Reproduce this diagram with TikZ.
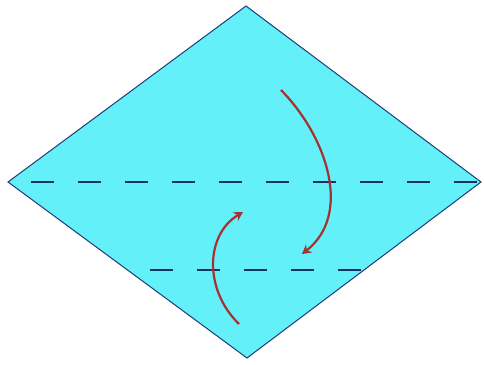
\documentclass[tikz,border=0pt]{standalone}
\usetikzlibrary{arrows.meta}
\definecolor{paper}{RGB}{100,240,248}
\definecolor{edge}{RGB}{30,60,120}
\definecolor{fold}{RGB}{20,50,100}
\definecolor{arr}{RGB}{165,50,50}
\tikzset{
  foldline/.style={fold, line width=1.6pt, dash pattern=on 23pt off 24pt},
  turnarrow/.style={arr, line width=2.2pt, -{Stealth[length=9pt,width=10pt]}}
}
\begin{document}
\begin{tikzpicture}[x=1pt,y=-1pt]
\useasboundingbox (0,0) rectangle (484,364);
\coordinate (T) at (246,6);
\coordinate (L) at (8,182);
\coordinate (R) at (481,182);
\coordinate (B) at (247,358);
\fill[paper] (T) -- (R) -- (B) -- (L) -- cycle;
\draw[edge, line width=1pt] (T) -- (R) -- (B) -- (L) -- cycle;
\coordinate (f1a) at (31,182);
\coordinate (f1b) at (481,182);
\draw[foldline] (f1a) -- (f1b);
\coordinate (f2a) at (150,270);
\coordinate (f2b) at (363,270);
\draw[foldline] (f2a) -- (f2b);
\coordinate (a1s) at (281,90);
\coordinate (a1e) at (302,254);
\draw[turnarrow] (a1s) .. controls (328,138) and (352,215) .. (a1e);
\coordinate (a2s) at (239,324);
\coordinate (a2e) at (243,212);
\draw[turnarrow] (a2s) .. controls (204,290) and (205,235) .. (a2e);
\end{tikzpicture}
\end{document}
